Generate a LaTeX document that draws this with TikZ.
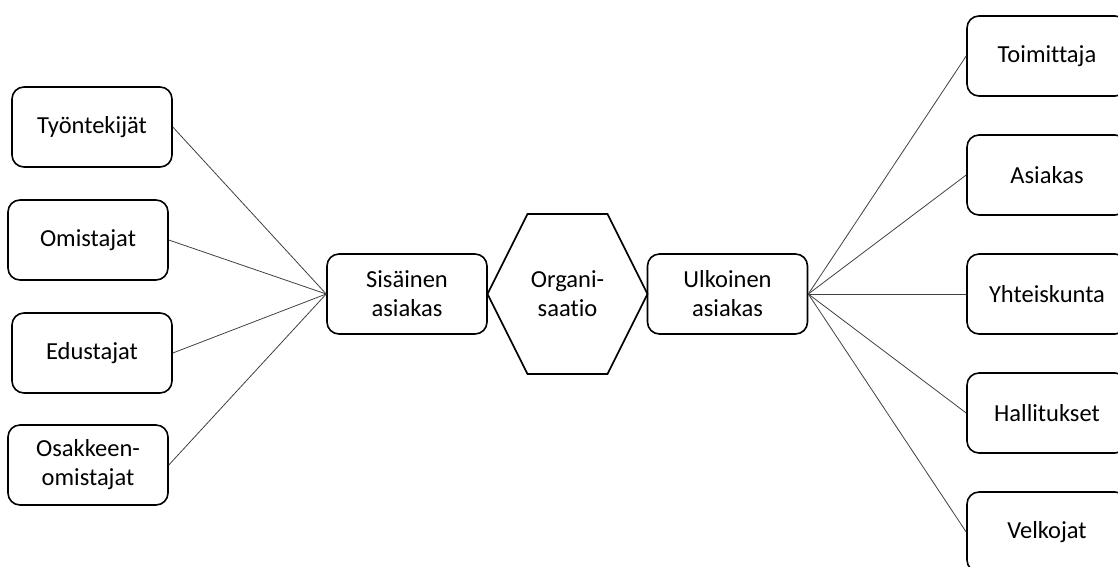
\documentclass[tikz,border=0pt]{standalone}
\usepackage{fontspec}
\setmainfont[Ligatures=NoCommon]{Carlito}
\usetikzlibrary{calc}
\begin{document}
\begin{tikzpicture}[x=1pt,y=-1pt,
  lbl/.style={align=center,inner sep=0pt,font=\fontsize{24.5}{29}\selectfont},
  box/.style={lbl,draw=black,line width=1.6pt,rounded corners=12pt,
    minimum width=160pt,minimum height=80pt},
  link/.style={draw=black!75,line width=0.8pt}]
\useasboundingbox (0,0) rectangle (1118,566);
% left group
\node[box] (tyo) at (92,127) {Työntekijät};
\node[box] (omi) at (88,240) {Omistajat};
\node[box] (edu) at (92,353) {Edustajat};
\node[box] (osa) at (88,465) {Osakkeen-\\omistajat};
% centre
\node[box] (sis) at (407,294) {Sisäinen\\asiakas};
\node[lbl] (org) at (567.5,294) {Organi-\\saatio};
\draw[line width=1.6pt,line join=miter]
  ($(org)+(-80,0)$) -- ($(org)+(-40,-80)$) -- ($(org)+(40,-80)$)
  -- ($(org)+(80,0)$) -- ($(org)+(40,80)$) -- ($(org)+(-40,80)$) -- cycle;
\node[box] (ulk) at (727.5,294) {Ulkoinen\\asiakas};
% right group
\node[box] (toi) at (1047,56) {Toimittaja};
\node[box] (asi) at (1047,175) {Asiakas};
\node[box] (yht) at (1047,294) {Yhteiskunta};
\node[box] (hal) at (1047,413) {Hallitukset};
\node[box] (vel) at (1047,532) {Velkojat};
% connectors
\foreach \n in {tyo,omi,edu,osa} \draw[link] (\n.east) -- (sis.west);
\foreach \n in {toi,asi,yht,hal,vel} \draw[link] (ulk.east) -- (\n.west);
\end{tikzpicture}
\end{document}
